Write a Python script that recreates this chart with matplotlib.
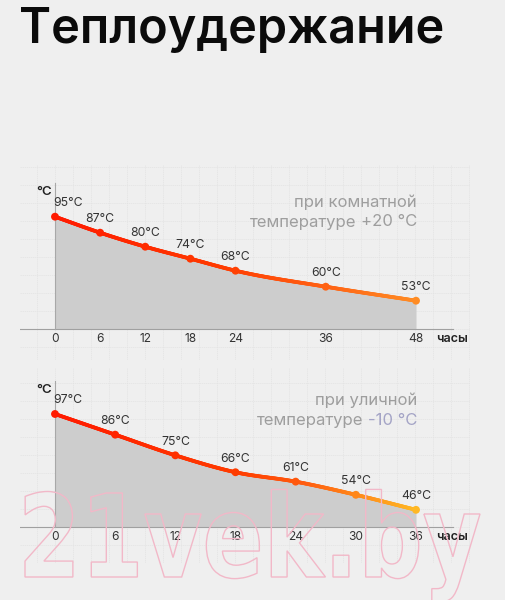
import numpy as np
import matplotlib
matplotlib.use("Agg")
import matplotlib.pyplot as plt
from matplotlib.collections import LineCollection
from matplotlib.colors import LinearSegmentedColormap
from matplotlib.textpath import TextPath
from matplotlib.patches import PathPatch
from matplotlib.font_manager import FontProperties
from matplotlib.transforms import Affine2D

plt.rcParams['font.family'] = ['Inter', 'DejaVu Sans']

title = "Теплоудержание"
unit = "°C"
x_name = "часы"

room_hours = [0, 6, 12, 18, 24, 36, 48]
room_temps = [95, 87, 80, 74, 68, 60, 53]
room_note = ["при комнатной", "температуре", "+20 °C"]

street_hours = [0, 6, 12, 18, 24, 30, 36]
street_temps = [97, 86, 75, 66, 61, 54, 46]
street_note = ["при уличной", "температуре", "-10 °C"]

BG = "#efefef"
W, H = 505, 600
PT = 0.72  # points per pixel at dpi 100

fig = plt.figure(figsize=(W / 100, H / 100), dpi=100, facecolor=BG)


def smooth(x, y, n=400):
    # cubic hermite through the points, only for drawing the curve
    x = np.asarray(x, float)
    y = np.asarray(y, float)
    m = np.gradient(y, x)
    xs = np.linspace(x[0], x[-1], n)
    i = np.clip(np.searchsorted(x, xs, side="right") - 1, 0, len(x) - 2)
    h = x[i + 1] - x[i]
    t = (xs - x[i]) / h
    ys = ((2 * t**3 - 3 * t**2 + 1) * y[i] + (t**3 - 2 * t**2 + t) * h * m[i]
          + (-2 * t**3 + 3 * t**2) * y[i + 1] + (t**3 - t**2) * h * m[i + 1])
    return xs, ys


def panel(top, bottom, base, hours, temps, y_base, px_deg, colors, note, note_col):
    left, right = 20, 470
    ax = fig.add_axes([left / W, 1 - bottom / H, (right - left) / W, (bottom - top) / H])
    ax.set_facecolor("none")
    px_h = (416 - 55) / hours[-1]
    ax.set_xlim((left - 55) / px_h, (right - 55) / px_h)
    ax.set_ylim(y_base - (bottom - base) / px_deg, y_base + (base - top) / px_deg)
    ax.axis("off")

    step_x = 18 / px_h
    for k in range(-2, 25):
        ax.axvline(k * step_x, color="#e3e3e3", lw=0.5, ls=(0, (2, 1)), zorder=0)
    step_y = 18 / px_deg
    for k in range(-3, 11):
        ax.axhline(y_base + k * step_y, color="#e3e3e3", lw=0.5, ls=(0, (2, 1)), zorder=0)

    xs, ys = smooth(hours, temps)
    ax.fill_between(xs, ys, y_base, color="#cdcdcd", lw=0, zorder=2)
    ax.plot([ax.get_xlim()[0], hours[-1] + 37 / px_h], [y_base, y_base],
            color="#a0a0a0", lw=0.8, zorder=3)
    ax.plot([0, 0], [y_base, y_base + 146 / px_deg], color="#a8a8a8", lw=0.8, zorder=3)

    cmap = LinearSegmentedColormap.from_list("heat", colors)
    pts = np.column_stack([xs, ys]).reshape(-1, 1, 2)
    segs = np.concatenate([pts[:-1], pts[1:]], axis=1)
    lc = LineCollection(segs, colors=cmap(xs[:-1] / hours[-1]), lw=2.7,
                        capstyle="round", zorder=4)
    ax.add_collection(lc)
    ax.scatter(hours, temps, s=32, c=cmap(np.array(hours) / hours[-1]),
               lw=0, zorder=5)

    for i, (h, t) in enumerate(zip(hours, temps)):
        ax.annotate(f"{t}°C", (h, t), xytext=(-1 if i == 0 else 0, 5.5),
                    textcoords="offset points", ha="left" if i == 0 else "center",
                    va="bottom", fontsize=8.8, color="#333333", zorder=6)
        ax.annotate(str(h), (h, y_base), xytext=(0, -10 * PT),
                    textcoords="offset points", ha="center", va="center",
                    fontsize=8.6, color="#333333")
    ax.annotate(x_name, (hours[-1], y_base), xytext=(20 * PT, -10 * PT),
                textcoords="offset points", ha="left", va="center",
                fontsize=9, fontweight="semibold", color="#222222")
    ax.annotate(unit, (0, y_base), xytext=(-11 * PT, 137 * PT),
                textcoords="offset points", ha="center", va="center",
                fontsize=9.5, fontweight="semibold", color="#222222")

    ax.annotate(note[0], (hours[-1], y_base), xytext=(1 * PT, 127 * PT),
                textcoords="offset points", ha="right", va="center",
                fontsize=12, color="#9e9e9e")
    t2 = ax.annotate(note[2], (hours[-1], y_base), xytext=(1 * PT, 107 * PT),
                     textcoords="offset points", ha="right", va="center",
                     fontsize=12, color=note_col)
    ax.annotate(note[1], xy=(0, 0.5), xycoords=t2, xytext=(-3, 0),
                textcoords="offset points", ha="right", va="center",
                fontsize=12, color="#9e9e9e")
    return ax


fig.text(19 / W, 1 - 30 / H, title, fontsize=35, fontweight="semibold",
         ha="left", va="center", color="#0b0b0b")

panel(165, 360, 329, room_hours, room_temps, 38.85, 2.0,
      [(0, "#ff1a00"), (0.45, "#ff3a00"), (0.75, "#ff6214"), (1, "#ff8c24")],
      room_note, "#9e9e9e")
panel(368, 563, 527.3, street_hours, street_temps, 36.7, 1.879,
      [(0, "#ff1a00"), (0.5, "#ff3c00"), (0.7, "#ff5e10"), (0.85, "#ff8c1a"),
       (1, "#ffb824")],
      street_note, "#a4a4c6")

# watermark outline
wm = fig.add_axes([0, 0, 1, 1])
wm.set_xlim(0, W)
wm.set_ylim(H, 0)
wm.axis("off")
wm.set_facecolor("none")
tp = TextPath((0, 0), "21vek.by", size=100,
              prop=FontProperties(family="DejaVu Sans", weight="bold"))
bb = tp.get_extents()
sx = 455 / bb.width
sy = 84 / 72.9
tr = Affine2D().translate(-bb.x0, 0).scale(sx, -sy).translate(25, 577)
wm.add_patch(PathPatch(tr.transform_path(tp), fc="none", ec="#f2b8c8", lw=1.0))

fig.savefig("out.png", dpi=100, facecolor=BG)
